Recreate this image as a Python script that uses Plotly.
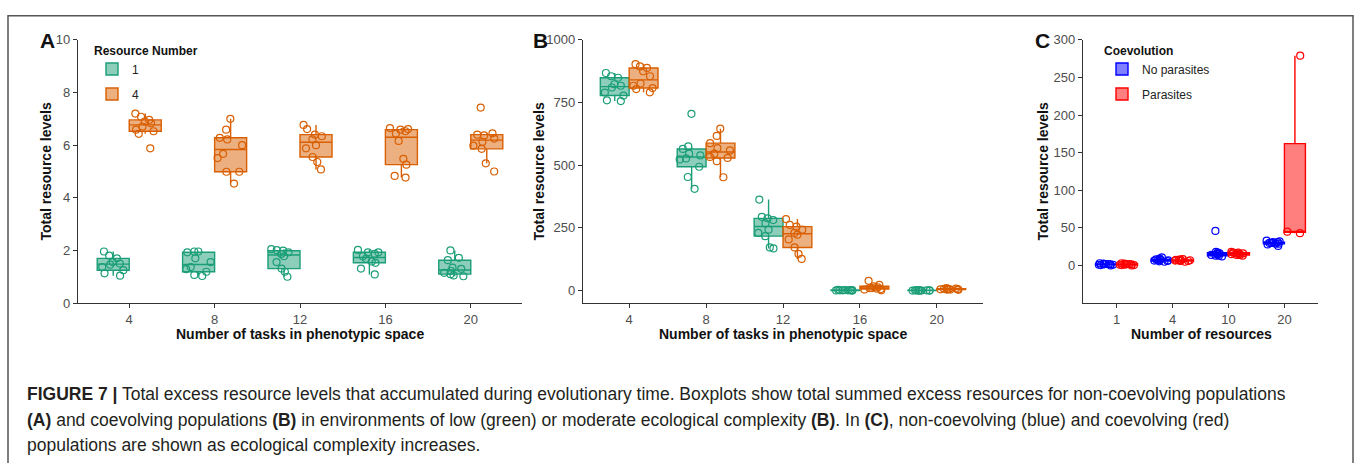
import plotly.graph_objects as go

W, H = 1357, 463
def px(x): return x / W
def py(y): return 1 - y / H

# ---------------- data ----------------
tasks = ["4", "8", "12", "16", "20"]
resources = ["1", "4", "10", "20"]

# Panel A: non-coevolving, resource number 1 (green) and 4 (orange)
A_res1 = [
    [1.96, 1.80, 1.70, 1.56, 1.50, 1.46, 1.37, 1.25, 1.13, 1.04],
    [1.96, 1.96, 1.93, 1.70, 1.56, 1.37, 1.29, 1.19, 1.07, 1.03],
    [2.05, 2.01, 1.99, 1.93, 1.87, 1.78, 1.56, 1.31, 1.19, 1.00],
    [2.02, 1.93, 1.93, 1.87, 1.78, 1.68, 1.58, 1.53, 1.31, 1.09],
    [2.00, 1.72, 1.63, 1.35, 1.30, 1.22, 1.15, 1.10, 1.05, 1.02],
]
A_res4 = [
    [7.20, 7.08, 6.96, 6.90, 6.83, 6.71, 6.59, 6.53, 6.43, 5.88],
    [7.00, 6.59, 6.28, 6.22, 6.00, 5.67, 5.51, 4.99, 4.99, 4.54],
    [6.77, 6.61, 6.40, 6.34, 6.22, 6.00, 5.88, 5.55, 5.36, 5.08],
    [6.65, 6.61, 6.59, 6.53, 6.44, 6.16, 5.48, 5.26, 4.83, 4.77],
    [7.43, 6.45, 6.40, 6.37, 6.25, 6.13, 5.98, 5.86, 5.31, 5.00],
]
# Panel B: coevolving
B_res1 = [
    [868, 855, 849, 823, 817, 810, 790, 778, 759, 756],
    [705, 575, 565, 546, 539, 527, 523, 494, 453, 406],
    [363, 294, 288, 281, 268, 243, 230, 217, 172, 168],
    [3, 2, 2, 1.5, 1, 1, 1, 0.5, 0.5, 0],
    [1, 1, 1, 0.5, 0.5, 0.5, 0, 0, 0, 0],
]
B_res4 = [
    [903, 894, 888, 875, 855, 826, 817, 808, 804, 791],
    [646, 617, 588, 568, 559, 546, 533, 529, 516, 452],
    [285, 262, 255, 243, 230, 223, 204, 172, 146, 126],
    [39, 23, 17, 13, 10, 10, 8, 6, 4, 1],
    [10, 8, 7, 6, 6, 5, 5, 4, 4, 3],
]
# Panel C: coevolution
C_none = [
    [3, 2.5, 2, 2, 1.5, 1.5, 1, 1, 0.5, 0],
    [10.8, 9, 8, 7.5, 7, 7, 6.5, 6, 5.5, 5],
    [46, 18, 17, 16, 15, 15, 14, 13, 13, 12],
    [33, 32, 31, 31, 30, 30, 29, 29, 28, 26],
]
C_para = [
    [3, 2.5, 2, 2, 1.5, 1, 1, 0.5, 0.5, 0],
    [8.5, 8, 7.5, 7, 7, 7, 6.5, 6, 6, 5],
    [18, 17, 17, 16, 16, 15, 15, 14, 14, 13],
    [279, 45, 43],
]

GREEN, ORANGE = "#1B9E77", "#D95F02"
BLUE, RED = "#0000FF", "#FF0000"

def box_trace(cats, vals, name, color, fill, xa, ya, legend, showlegend, og):
    xs, ys = [], []
    for c, v in zip(cats, vals):
        xs += [c] * len(v)
        ys += v
    return go.Box(
        x=xs, y=ys, name=name, xaxis=xa, yaxis=ya, offsetgroup=og,
        boxpoints="all", jitter=0.85, pointpos=0, quartilemethod="inclusive",
        marker=dict(symbol="circle-open", size=7, color=color,
                    line=dict(width=1.2, color=color)),
        line=dict(color=color, width=1.4), fillcolor=fill,
        whiskerwidth=0, legend=legend, showlegend=showlegend,
        legendgroup=legend + name,
    )

fig = go.Figure()
fig.add_trace(box_trace(tasks, A_res1, "1", GREEN, "rgba(27,158,119,0.5)", "x", "y", "legend", True, "g1"))
fig.add_trace(box_trace(tasks, A_res4, "4", ORANGE, "rgba(217,95,2,0.5)", "x", "y", "legend", True, "g2"))
fig.add_trace(box_trace(tasks, B_res1, "1", GREEN, "rgba(27,158,119,0.5)", "x2", "y2", "legend", False, "g1"))
fig.add_trace(box_trace(tasks, B_res4, "4", ORANGE, "rgba(217,95,2,0.5)", "x2", "y2", "legend", False, "g2"))
fig.add_trace(box_trace(resources, C_none, "No parasites", BLUE, "rgba(0,0,255,0.5)", "x3", "y3", "legend2", True, "g1"))
fig.add_trace(box_trace(resources, C_para, "Parasites", RED, "rgba(255,0,0,0.5)", "x3", "y3", "legend2", True, "g2"))

FONT = "Liberation Sans, Arial, sans-serif"
ydom = [py(306), py(34)]

def xax(dom, cats, anchor):
    return dict(domain=dom, type="category", categoryorder="array", categoryarray=cats,
                range=[-0.6, len(cats) - 0.4], showline=True, linecolor="#333333", linewidth=1.3,
                ticks="outside", ticklen=4, tickcolor="#333333", tickwidth=1.2,
                tickfont=dict(size=13, color="#4D4D4D", family=FONT),
                showgrid=False, zeroline=False, anchor=anchor, fixedrange=True)

def yax(rng, tv, anchor):
    return dict(domain=ydom, range=rng, tickvals=tv, showline=True, linecolor="#333333",
                linewidth=1.3, ticks="outside", ticklen=4, tickcolor="#333333", tickwidth=1.2,
                tickfont=dict(size=13, color="#4D4D4D", family=FONT),
                showgrid=False, zeroline=False, anchor=anchor, fixedrange=True)

fig.update_layout(
    width=W, height=H, autosize=False,
    margin=dict(l=0, r=0, t=0, b=0),
    paper_bgcolor="white", plot_bgcolor="white",
    font=dict(family=FONT),
    boxmode="group", boxgap=0.25, boxgroupgap=0,
    xaxis=xax([px(78), px(522)], tasks, "y"),
    yaxis=yax([0, 10], [0, 2, 4, 6, 8, 10], "x"),
    xaxis2=xax([px(583), px(983)], tasks, "y2"),
    yaxis2=yax([-50, 1000], [0, 250, 500, 750, 1000], "x2"),
    xaxis3=xax([px(1083), px(1318)], resources, "y3"),
    yaxis3=yax([-50, 300], [0, 50, 100, 150, 200, 250, 300], "x3"),
    legend=dict(x=px(92), y=py(33), xanchor="left", yanchor="top",
                bgcolor="rgba(0,0,0,0)", tracegroupgap=6, traceorder="grouped",
                title=dict(text="<b>Resource Number</b>", font=dict(size=12, color="#111111")),
                font=dict(size=12, color="#222222")),
    legend2=dict(x=px(1102), y=py(33), xanchor="left", yanchor="top",
                 bgcolor="rgba(0,0,0,0)", tracegroupgap=6, traceorder="grouped",
                 title=dict(text="<b>Coevolution</b>", font=dict(size=12, color="#111111")),
                 font=dict(size=12, color="#222222")),
)

ann = []
def add(text, x, y, size, angle=0, xanchor="center", color="#111111"):
    ann.append(dict(text=text, x=px(x), y=py(y), xref="paper", yref="paper",
                    xanchor=xanchor, yanchor="middle", showarrow=False, textangle=angle,
                    font=dict(size=size, color=color, family=FONT)))

add("<b>A</b>", 47, 35, 21)
add("<b>B</b>", 540, 35, 21)
add("<b>C</b>", 1042, 35, 21)
add("<b>Total resource levels</b>", 46, 170, 14, angle=-90)
add("<b>Total resource levels</b>", 539, 170, 14, angle=-90)
add("<b>Total resource levels</b>", 1043, 170, 14, angle=-90)
add("<b>Number of tasks in phenotypic space</b>", 300, 338, 14)
add("<b>Number of tasks in phenotypic space</b>", 783, 338, 14)
add("<b>Number of resources</b>", 1201, 338, 14)

cap = [
    "<b>FIGURE 7 |</b> Total excess resource levels that accumulated during evolutionary time. Boxplots show total summed excess resources for non-coevolving populations",
    "<b>(A)</b> and coevolving populations <b>(B)</b> in environments of low (green) or moderate ecological complexity <b>(B)</b>. In <b>(C)</b>, non-coevolving (blue) and coevolving (red)",
    "populations are shown as ecological complexity increases.",
]
for i, t in enumerate(cap):
    add(t, 25, 400 + 26.5 * i, 17.5, xanchor="left", color="#231F20")

fig.update_layout(annotations=ann)

fig.add_shape(type="rect", xref="paper", yref="paper",
              x0=px(8), x1=px(1353), y0=py(500), y1=py(9),
              line=dict(color="#555555", width=1.5), fillcolor="rgba(0,0,0,0)", layer="below")

fig.write_html("out.html")
